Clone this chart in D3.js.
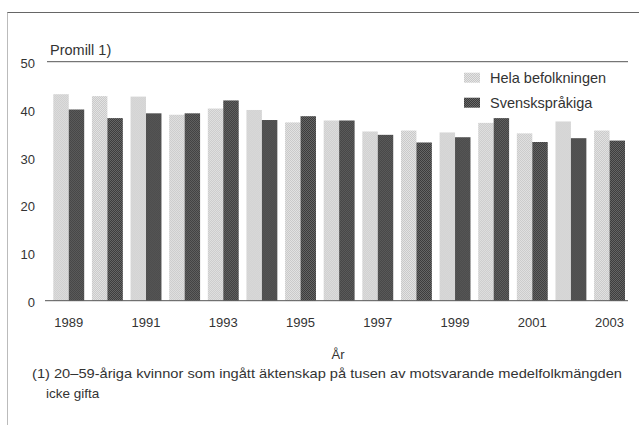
<!DOCTYPE html>
<html>
<head>
<meta charset="utf-8">
<script src="https://cdn.jsdelivr.net/npm/d3@7"></script>
<style>
  html, body { margin: 0; padding: 0; background: #fff; }
  svg { display: block; }
  text { font-family: "Liberation Sans", Arial, sans-serif; fill: #333; }
</style>
</head>
<body>
<svg id="chart" width="639" height="425"></svg>
<script>
const years = [1989,1990,1991,1992,1993,1994,1995,1996,1997,1998,1999,2000,2001,2002,2003];
const hela = [43.2,42.8,42.7,38.9,40.2,39.9,37.3,37.7,35.4,35.6,35.2,37.2,35.0,37.5,35.6];
const svensk = [40.0,38.2,39.2,39.2,41.9,37.8,38.6,37.7,34.7,33.1,34.2,38.2,33.2,34.0,33.5];
const seriesNames = ["Hela befolkningen", "Svenskspråkiga"];
const yTicks = [0,10,20,30,40,50];
const xTickLabels = [1989,1991,1993,1995,1997,1999,2001,2003];
const yLabel = "Promill 1)";
const xLabel = "År";
const footnote = ["(1) 20–59-åriga kvinnor som ingått äktenskap på tusen av motsvarande medelfolkmängden", "icke gifta"];

const svg = d3.select("#chart");
const defs = svg.append("defs");
function checker(id, a, b) {
  const p = defs.append("pattern").attr("id", id).attr("patternUnits", "userSpaceOnUse")
    .attr("width", 2).attr("height", 2);
  p.append("rect").attr("width", 2).attr("height", 2).attr("fill", a);
  p.append("rect").attr("width", 1).attr("height", 1).attr("fill", b);
  p.append("rect").attr("x", 1).attr("y", 1).attr("width", 1).attr("height", 1).attr("fill", b);
}
checker("pLight", "#c8c8c8", "#e4e4e4");
checker("pDark", "#3a3a3a", "#686868");
const fills = ["url(#pLight)", "url(#pDark)"];

// frame
svg.append("line").attr("x1", 7).attr("x2", 639).attr("y1", 12.5).attr("y2", 12.5)
  .attr("stroke", "#666").attr("stroke-width", 1);
svg.append("line").attr("x1", 7.5).attr("x2", 7.5).attr("y1", 12.5).attr("y2", 425)
  .attr("stroke", "#bbb").attr("stroke-width", 1);

const y = d3.scaleLinear().domain([0, 50]).range([300.7, 61.7]);
const x = d3.scaleBand().domain(years).range([53.3, 625]).paddingInner(0.2).paddingOuter(0);
const xs = d3.scaleBand().domain(seriesNames).range([0, x.bandwidth()]).padding(0);

// top line at 50
svg.append("line").attr("x1", 47).attr("x2", 628).attr("y1", y(50)).attr("y2", y(50))
  .attr("stroke", "#555").attr("stroke-width", 1);

// y tick labels
const yAxis = d3.axisLeft(y).tickValues(yTicks).tickSize(0).tickPadding(0);
const gy = svg.append("g").attr("transform", "translate(35,0)").call(yAxis);
gy.select(".domain").remove();
gy.selectAll("text").attr("font-size", 13).attr("dy", "0.45em").attr("x", 0)
  .style("font-family", '"Liberation Sans", Arial, sans-serif').attr("fill", "#333");

// bars
const data = years.map((yr, i) => ({ year: yr, vals: [hela[i], svensk[i]] }));
const groups = svg.append("g").selectAll("g").data(data).join("g")
  .attr("transform", d => `translate(${x(d.year)},0)`);
groups.selectAll("rect").data(d => d.vals.map((v, k) => ({ v, k }))).join("rect")
  .attr("x", d => xs(seriesNames[d.k]))
  .attr("width", xs.bandwidth())
  .attr("y", d => y(d.v))
  .attr("height", d => y(0) - y(d.v))
  .attr("fill", d => fills[d.k]);

// baseline
svg.append("line").attr("x1", 45).attr("x2", 628).attr("y1", y(0)).attr("y2", y(0))
  .attr("stroke", "#555").attr("stroke-width", 1);

// x axis labels
const xAxis = d3.axisBottom(x).tickValues(xTickLabels).tickSize(0).tickPadding(0);
const gx = svg.append("g").attr("transform", "translate(0,318)").call(xAxis);
gx.select(".domain").remove();
gx.selectAll("text").attr("font-size", 13).attr("dy", "0.72em").attr("y", 0)
  .style("font-family", '"Liberation Sans", Arial, sans-serif').attr("fill", "#333");

// labels
svg.append("text").attr("x", 50).attr("y", 55).attr("font-size", 14.5).text(yLabel);
svg.append("text").attr("x", 338).attr("y", 359).attr("font-size", 13).attr("text-anchor", "middle").text(xLabel);

// legend
const leg = svg.append("g");
seriesNames.forEach((name, k) => {
  const ly = 72.7 + k * 25;
  leg.append("rect").attr("x", 464).attr("y", ly).attr("width", 16).attr("height", 10).attr("fill", fills[k]);
  leg.append("text").attr("x", 490).attr("y", ly + 10.5).attr("font-size", 14.5).text(name);
});

// footnote
svg.append("text").attr("x", 32).attr("y", 378).attr("font-size", 13.5)
  .attr("textLength", 590).attr("lengthAdjust", "spacingAndGlyphs").text(footnote[0]);
svg.append("text").attr("x", 46).attr("y", 398).attr("font-size", 13.5).text(footnote[1]);
</script>
</body>
</html>
